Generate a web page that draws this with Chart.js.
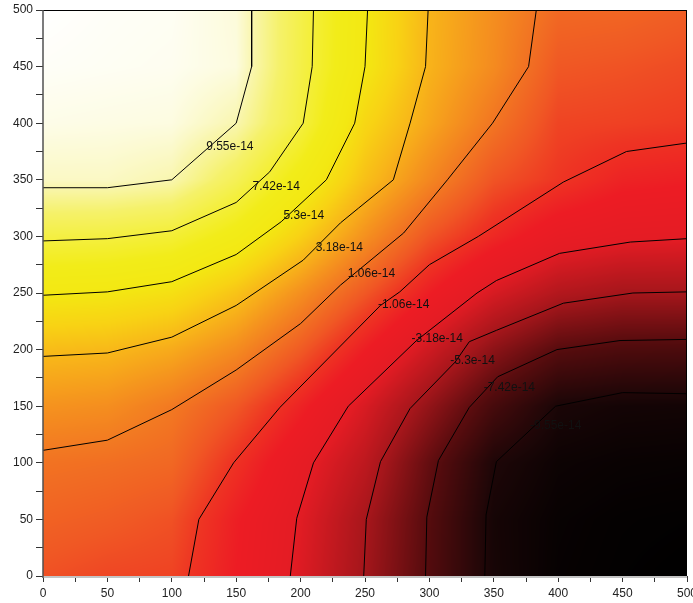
<!DOCTYPE html>
<html>
<head>
<meta charset="utf-8">
<title>Contour</title>
<script src="https://cdn.jsdelivr.net/npm/chart.js@4.4.1/dist/chart.umd.min.js"></script>
<style>
html,body{margin:0;padding:0;background:#fff;}
canvas{display:block;}
</style>
</head>
<body>
<canvas id="contourChart" width="693" height="603"></canvas>
<script>
/* =========================================
DATA  (values in units of 1e-14)
========================================= */

// grid nodes
const gridX = [0,50,100,150,200,250,300,350,400,450,500];
const gridY = [500,450,400,350,300,250,200,150,100,50,0];

// field values, one row per y (top row first)
const z500 = [10.6,10.5,10.45,10.12,7.75,5.36,3.15,1.89,0.6,0.5,0.2];
const z450 = [10.5,10.45,10.4,10.17,7.7,5.3,3.1,1.78,0.0,-0.15,-0.37];
const z400 = [10.3,10.25,10.2,9.55,7.5,4.42,2.68,1.02,-0.55,-0.65,-0.8];
const z350 = [9.83,9.83,9.55,8.03,5.98,3.54,1.65,-0.12,-0.97,-1.7,-1.87];
const z300 = [7.6,7.51,7.18,6.04,4.14,1.98,-0.1,-1.5,-2.65,-3.04,-3.12];
const z250 = [5.39,5.26,4.87,3.67,1.93,0,-1.93,-3.65,-4.84,-5.29,-5.28];
const z200 = [3.42,3.3,2.82,1.8,0.1,-1.93,-3.95,-5.97,-7.43,-7.78,-7.83];
const z150 = [2.06,1.89,1.17,0.0,-1.7,-3.6,-5.8,-8.02,-9.58,-9.83,-9.87];
const z100 = [0.94,0.8,0.55,-1.14,-2.84,-4.5,-7.1,-9.43,-10.1,-10.25,-10.3];
const z50  = [0.37,0.15,-0.2,-1.88,-3.3,-5.2,-7.51,-9.75,-10.3,-10.45,-10.5];
const z0   = [-0.2,-0.5,-0.6,-2.0,-3.47,-5.36,-7.58,-9.7,-10.35,-10.5,-10.6];

// contour levels and their labels
const levels = [9.55,7.42,5.3,3.18,1.06,-1.06,-3.18,-5.3,-7.42,-9.55];
const levelText = ["9.55e-14","7.42e-14","5.3e-14","3.18e-14","1.06e-14",
"-1.06e-14","-3.18e-14","-5.3e-14","-7.42e-14","-9.55e-14"];

// contour lines [x,y]
const line955 = [[162,500],[162,450],[150,400],[100,350],[50,343],[0,343]];
const line742 = [[210,500],[209,450],[202,400],[176,357],[150,330],[100,305],[50,298],[0,296]];
const line530 = [[252,500],[250,450],[242,400],[220,350],[185,313],[150,284],[100,260],[50,251],[0,248]];
const line318 = [[299,500],[297,450],[285,400],[272,350],[245,325],[231,312],[202,279],[150,239],[100,211],[50,197],[0,194]];
const line106 = [[383,500],[377,450],[349,400],[314,350],[280,303],[231,257],[200,223],[150,182],[100,147],[50,120],[0,111]];
const lineM106 = [[500,382.5],[453,375],[404,348],[338,300],[300,275],[277,251],[262,239],[184,149],[148,100],[121,50],[113,0]];
const lineM318 = [[500,298],[456,295],[401,285],[352,261],[337,250],[290,208],[237,150],[210,100],[197,51],[192,0]];
const lineM530 = [[500,251],[458,250],[404,241],[352,217],[331,207],[320,189],[285,148],[262,101],[251,50],[249,0]];
const lineM742 = [[500,209],[448,208],[399,200],[353,176],[331,149],[307,102],[298,52],[297,0]];
const lineM955 = [[500,161],[450,162],[398,150],[352,101],[344,54],[343,0]];

// where each label sits on its line
const labelAt = [[129,379],[165,344],[189,318],[214,290],[239,267],
[264,240],[290,210],[320,190],[346,166],[382,133]];

/* ========================================= */

const zRows = [z500,z450,z400,z350,z300,z250,z200,z150,z100,z50,z0];
const contourLines = [line955,line742,line530,line318,line106,
lineM106,lineM318,lineM530,lineM742,lineM955];

// colour map stops (value -> rgb)
const cmapV = [-10.6,-9.5,-7.4,-5.3,-3.2,-2.0,-1.0,0,1.06,2.1,3.2,4.2,5.3,6.4,7.4,8.5,9.55,10.6];
const cmapC = [
[0,0,0],[28,6,7],[88,12,14],[165,22,27],[228,28,36],[237,28,36],[238,52,35],
[240,88,36],[242,118,34],[245,148,30],[248,182,25],[248,210,20],[243,232,18],
[242,236,25],[244,239,60],[245,241,105],[249,246,175],[255,255,255]
];

function colourFor(v){

if(v <= cmapV[0]) return cmapC[0];
for(let k=1;k<cmapV.length;k++){
if(v <= cmapV[k]){
const t = (v - cmapV[k-1]) / (cmapV[k] - cmapV[k-1]);
const a = cmapC[k-1], b = cmapC[k];
return [a[0]+(b[0]-a[0])*t, a[1]+(b[1]-a[1])*t, a[2]+(b[2]-a[2])*t];
}
}
return cmapC[cmapC.length-1];

}

function fieldAt(vx,vy){

const step = 50;
let i = Math.floor(vx/step), r = Math.floor((500-vy)/step);
i = Math.max(0,Math.min(gridX.length-2,i));
r = Math.max(0,Math.min(gridY.length-2,r));
const fx = (vx - gridX[i]) / step;
const fy = (gridY[r] - vy) / step;
const a = zRows[r][i], b = zRows[r][i+1];
const c = zRows[r+1][i], d = zRows[r+1][i+1];
return (a*(1-fx)+b*fx)*(1-fy) + (c*(1-fx)+d*fx)*fy;

}

/* =========================================
PLUGINS
========================================= */

const heatmap = {

id:'heatmap',

beforeDatasetsDraw(chart){

const {ctx, chartArea:area, scales} = chart;
const w = Math.round(area.right - area.left);
const h = Math.round(area.bottom - area.top);
const off = document.createElement('canvas');
off.width = w; off.height = h;
const octx = off.getContext('2d');
const img = octx.createImageData(w,h);

for(let py=0;py<h;py++){
const vy = scales.y.getValueForPixel(area.top + py + 0.5);
for(let px=0;px<w;px++){
const vx = scales.x.getValueForPixel(area.left + px + 0.5);
const col = colourFor(fieldAt(vx,vy));
const p = (py*w + px)*4;
img.data[p] = col[0];
img.data[p+1] = col[1];
img.data[p+2] = col[2];
img.data[p+3] = 255;
}
}

octx.putImageData(img,0,0);
ctx.drawImage(off,area.left,area.top);

}

};

const labelsAndFrame = {

id:'labelsAndFrame',

afterDatasetsDraw(chart){

const {ctx, chartArea:area, scales} = chart;

ctx.save();
ctx.font = '12px "Liberation Sans", Arial, sans-serif';
ctx.fillStyle = '#111';
ctx.textAlign = 'left';
ctx.textBaseline = 'middle';
labelAt.forEach((p,k)=>{
const px = scales.x.getPixelForValue(p[0]);
const py = scales.y.getPixelForValue(p[1]);
const t = levelText[k];
ctx.fillText(t, px - (t[0]==='-' ? 5 : 3), py);
});

// frame
ctx.lineWidth = 1;
ctx.strokeStyle = '#000';
ctx.beginPath();
ctx.moveTo(area.left, area.top + 0.5);
ctx.lineTo(area.right, area.top + 0.5);
ctx.moveTo(area.right - 0.5, area.top);
ctx.lineTo(area.right - 0.5, area.bottom);
ctx.stroke();

ctx.strokeStyle = '#c4c4c4';
ctx.lineWidth = 2;
ctx.beginPath();
ctx.moveTo(area.left, area.bottom + 1);
ctx.lineTo(area.right, area.bottom + 1);
ctx.stroke();

ctx.strokeStyle = '#505050';
ctx.lineWidth = 1.5;
ctx.beginPath();
ctx.moveTo(area.left, area.top);
ctx.lineTo(area.left, area.bottom + 2);
ctx.stroke();
ctx.restore();

}

};

/* =========================================
CHART
========================================= */

const datasets = contourLines.map((pts,k)=>({

label: levelText[k],
data: pts.map(p=>({x:p[0], y:p[1]})),
showLine: true,
borderColor: '#000',
borderWidth: 1,
pointRadius: 0,
fill: false,
tension: 0

}));

const tickFont = { family:'"Liberation Sans", Arial, sans-serif', size:12 };

new Chart(document.getElementById('contourChart'), {

type:'scatter',

data:{ datasets },

options:{

responsive:false,
animation:false,
devicePixelRatio:1,
layout:{ autoPadding:false, padding:{ top:10, right:6, left:0, bottom:0 } },

plugins:{
legend:{ display:false },
tooltip:{ enabled:false }
},

scales:{

x:{
type:'linear',
min:0, max:500,
afterFit:(s)=>{ s.height = 27; s.paddingLeft = 0; s.paddingRight = 0; },
border:{ display:false },
grid:{ drawOnChartArea:false, drawTicks:true, tickLength:6, color:'#333' },
ticks:{
stepSize:25, autoSkip:false, maxRotation:0, padding:4,
color:'#222', font:tickFont,
callback:(v)=> v % 50 === 0 ? v : ''
}
},

y:{
type:'linear',
min:0, max:500,
afterFit:(s)=>{ s.width = 43; s.paddingTop = 0; s.paddingBottom = 0; },
border:{ display:false },
grid:{ drawOnChartArea:false, drawTicks:true, tickLength:7, color:'#333' },
ticks:{
stepSize:25, autoSkip:false, padding:3,
color:'#222', font:tickFont,
callback:(v)=> v % 50 === 0 ? v : ''
}
}

}

},

plugins:[heatmap, labelsAndFrame]

});
</script>
</body>
</html>
